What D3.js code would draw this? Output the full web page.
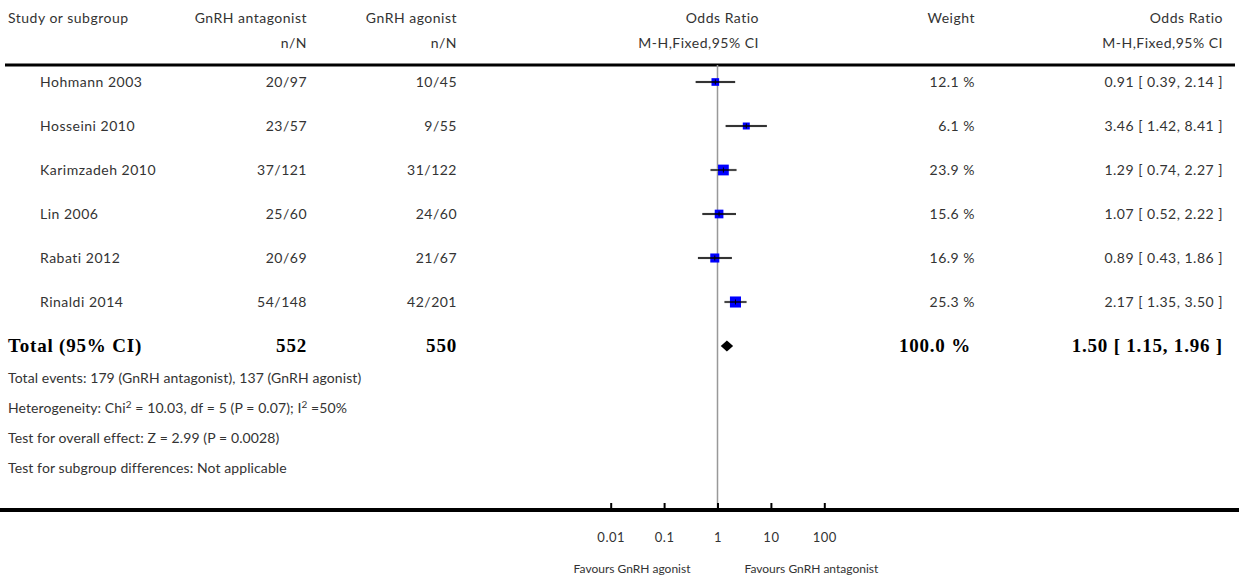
<!DOCTYPE html>
<html>
<head>
<meta charset="utf-8">
<script src="https://cdn.jsdelivr.net/npm/d3@7"></script>
<style>
  html, body { margin: 0; padding: 0; background: #fff; }
  svg { display: block; }
  .txt { font-family: Lato, "Open Sans", sans-serif; font-size: 14px; letter-spacing: 0.5px; fill: #333; }
  .foot { font-family: Lato, "Open Sans", sans-serif; font-size: 14px; letter-spacing: 0.1px; fill: #333; }
  .tick-lbl { font-family: Lato, "Open Sans", sans-serif; font-size: 13px; letter-spacing: 0.5px; fill: #333; }
  .small { font-family: Lato, "Open Sans", sans-serif; font-size: 12px; fill: #333; }
  .bold { font-family: "Liberation Serif", "DejaVu Serif", serif; font-size: 19px; font-weight: bold; letter-spacing: 0.8px; fill: #000; }
</style>
</head>
<body>
<svg id="chart" width="1239" height="578"></svg>
<script>
// Study-level data
const studies = ["Hohmann 2003", "Hosseini 2010", "Karimzadeh 2010", "Lin 2006", "Rabati 2012", "Rinaldi 2014"];
const antEvents = [20, 23, 37, 25, 20, 54];
const antTotal = [97, 57, 121, 60, 69, 148];
const agoEvents = [10, 9, 31, 24, 21, 42];
const agoTotal = [45, 55, 122, 60, 67, 201];
const weights = [12.1, 6.1, 23.9, 15.6, 16.9, 25.3];
const oddsRatio = [0.91, 3.46, 1.29, 1.07, 0.89, 2.17];
const ciLow = [0.39, 1.42, 0.74, 0.52, 0.43, 1.35];
const ciHigh = [2.14, 8.41, 2.27, 2.22, 1.86, 3.50];

// Pooled estimate
const totalAnt = 552, totalAgo = 550, totalWeight = 100.0;
const pooledOR = 1.50, pooledLow = 1.15, pooledHigh = 1.96;

// Axis ticks
const tickValues = [0.01, 0.1, 1, 10, 100];
const tickLabels = ["0.01", "0.1", "1", "10", "100"];

// Footer text (sup marks superscripts)
const footerLines = [
  [{t: "Total events: 179 (GnRH antagonist), 137 (GnRH agonist)"}],
  [{t: "Heterogeneity: Chi"}, {t: "2", sup: true}, {t: " = 10.03, df = 5 (P = 0.07); I"}, {t: "2", sup: true}, {t: " =50%"}],
  [{t: "Test for overall effect: Z = 2.99 (P = 0.0028)"}],
  [{t: "Test for subgroup differences: Not applicable"}]
];

const svg = d3.select("#chart");
const fmt2 = d3.format(".2f");

const x = d3.scaleLog().domain([0.01, 100]).range([610.7, 824.3]);
const y = d3.scalePoint().domain(studies).range([82, 302]);
const totalY = 346;
const topLineY = 65, axisY = 510;

// Column anchors
const colStudy = 40, colAnt = 307, colAgo = 457, colOR = 759, colW = 975, colCI = 1223;

function text(xp, yp, s, anchor, cls) {
  return svg.append("text").attr("class", cls || "txt")
    .attr("x", xp).attr("y", yp).attr("text-anchor", anchor || "start").text(s);
}

// Header
text(8, 23, "Study or subgroup");
text(colAnt, 23, "GnRH antagonist", "end");
text(colAgo, 23, "GnRH agonist", "end");
text(colOR, 23, "Odds Ratio", "end");
text(colW, 23, "Weight", "end");
text(colCI, 23, "Odds Ratio", "end");
text(colAnt, 48, "n/N", "end");
text(colAgo, 48, "n/N", "end");
text(colOR, 48, "M-H,Fixed,95% CI", "end");
text(colCI, 48, "M-H,Fixed,95% CI", "end");

// Rule under header
svg.append("line").attr("x1", 5).attr("x2", 1235).attr("y1", topLineY).attr("y2", topLineY)
  .attr("stroke", "#000").attr("stroke-width", 3);

// Line of no effect
svg.append("line").attr("x1", x(1)).attr("x2", x(1)).attr("y1", topLineY).attr("y2", axisY)
  .attr("stroke", "#999").attr("stroke-width", 1.5);

// Study rows
studies.forEach((s, i) => {
  const yy = y(s);
  text(colStudy, yy + 5, s);
  text(colAnt, yy + 5, antEvents[i] + "/" + antTotal[i], "end");
  text(colAgo, yy + 5, agoEvents[i] + "/" + agoTotal[i], "end");
  text(colW, yy + 5, weights[i].toFixed(1) + " %", "end");
  text(colCI, yy + 5, fmt2(oddsRatio[i]) + " [ " + fmt2(ciLow[i]) + ", " + fmt2(ciHigh[i]) + " ]", "end");

  // confidence interval with soft halo
  svg.append("line").attr("x1", x(ciLow[i])).attr("x2", x(ciHigh[i])).attr("y1", yy).attr("y2", yy)
    .attr("stroke", "#ccc").attr("stroke-width", 2.6);
  const size = Math.max(7, 2.2 * Math.sqrt(weights[i]));
  svg.append("rect").attr("x", x(oddsRatio[i]) - size / 2).attr("y", yy - size / 2)
    .attr("width", size).attr("height", size).attr("fill", "#0000ff");
  svg.append("line").attr("x1", x(ciLow[i])).attr("x2", x(ciHigh[i])).attr("y1", yy).attr("y2", yy)
    .attr("stroke", "#000").attr("stroke-width", 1.3);
  svg.append("line").attr("x1", x(oddsRatio[i])).attr("x2", x(oddsRatio[i])).attr("y1", yy - 2.5).attr("y2", yy + 2.5)
    .attr("stroke", "#000").attr("stroke-width", 1);
});

// Total row
text(8, totalY + 6, "Total (95% CI)", "start", "bold");
text(colAnt, totalY + 6, totalAnt, "end", "bold");
text(colAgo, totalY + 6, totalAgo, "end", "bold");
text(colW - 4, totalY + 6, totalWeight.toFixed(1) + " %", "end", "bold");
text(colCI, totalY + 6, fmt2(pooledOR) + " [ " + fmt2(pooledLow) + ", " + fmt2(pooledHigh) + " ]", "end", "bold");

svg.append("polygon")
  .attr("points", [
    [x(pooledLow), totalY], [x(pooledOR), totalY - 5.5],
    [x(pooledHigh), totalY], [x(pooledOR), totalY + 5.5]
  ].map(p => p.join(",")).join(" "))
  .attr("fill", "#000");

// Footer
footerLines.forEach((parts, i) => {
  const t = svg.append("text").attr("class", "foot").attr("x", 8).attr("y", 383 + i * 30);
  let raised = false;
  parts.forEach(p => {
    const ts = t.append("tspan").text(p.t);
    if (p.sup) {
      ts.attr("dy", -5).attr("font-size", "10px");
      raised = true;
    } else if (raised) {
      ts.attr("dy", 5);
      raised = false;
    }
  });
});

// Bottom axis
svg.append("line").attr("x1", 0).attr("x2", 1239).attr("y1", axisY).attr("y2", axisY)
  .attr("stroke", "#000").attr("stroke-width", 4);

const axis = d3.axisBottom(x).tickValues(tickValues)
  .tickFormat((d, i) => tickLabels[i]).tickSizeInner(-6).tickSizeOuter(0).tickPadding(24);
const ag = svg.append("g").attr("transform", `translate(0,${axisY - 1})`).call(axis);
ag.select(".domain").remove();
ag.selectAll(".tick line").attr("stroke", "#000").attr("stroke-width", 2);
ag.selectAll(".tick text").attr("class", "tick-lbl").attr("font-size", null).attr("font-family", null).attr("fill", null);

text(x(1) - 27, 573, "Favours GnRH agonist", "end", "small");
text(x(1) + 27, 573, "Favours GnRH antagonist", "start", "small");
</script>
</body>
</html>
